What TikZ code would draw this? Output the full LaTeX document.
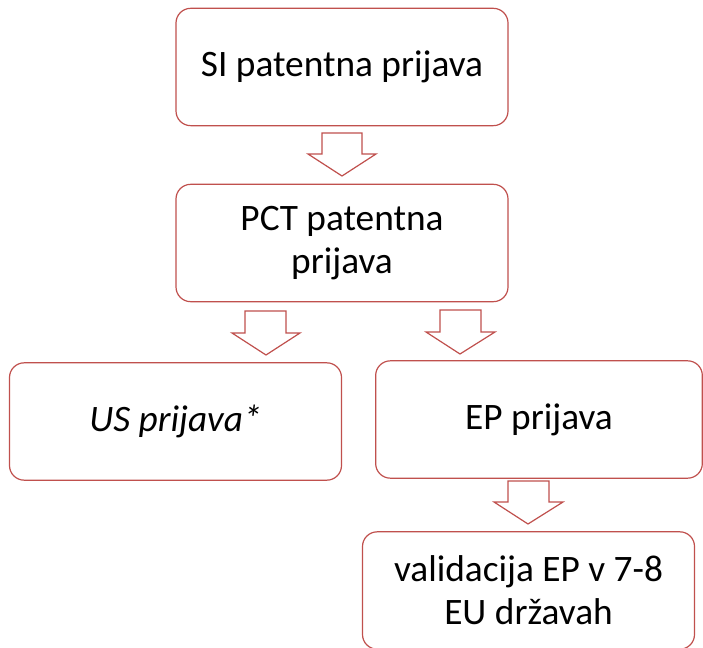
\documentclass[tikz,border=0pt]{standalone}
\usepackage{fontspec}
\setmainfont{Carlito}
\definecolor{acc}{RGB}{192,80,77}
\begin{document}
\begin{tikzpicture}[x=0.75pt,y=-0.75pt,
  box/.style={draw=acc,line width=0.9pt,rounded corners=11pt,fill=white,
    minimum width=249pt,minimum height=88pt,inner sep=0pt,align=center,
    font=\fontsize{28}{32}\selectfont},
  blockarrow/.style={draw=acc,line width=0.9pt,fill=white,line join=miter}]
\useasboundingbox (0,0) rectangle (703,648);
\clip (0,0) rectangle (703,648);
\node[box] (si) at (342,67) {SI patentna prijava};
\node[box] (pct) at (342,243) {PCT patentna\\prijava};
\node[box] (us) at (175.5,421.5) {\itshape US prijava*};
\node[box,minimum width=245pt] (ep) at (539,419.5) {EP prijava};
\node[box] (val) at (528.5,590.5) {validacija EP v 7-8\\EU državah};
% block arrows
\draw[blockarrow] (322,133) -- (362,133) -- (362,154) -- (376,154) -- (342,176) -- (308,154) -- (322,154) -- cycle;
\draw[blockarrow] (245,311) -- (286,311) -- (286,333) -- (300,333) -- (266,355) -- (232,333) -- (245,333) -- cycle;
\draw[blockarrow] (440,310) -- (481,310) -- (481,332) -- (495,332) -- (460,354) -- (426,332) -- (440,332) -- cycle;
\draw[blockarrow] (508,481) -- (549,481) -- (549,502) -- (563,502) -- (528,524) -- (494,502) -- (508,502) -- cycle;
\end{tikzpicture}
\end{document}
